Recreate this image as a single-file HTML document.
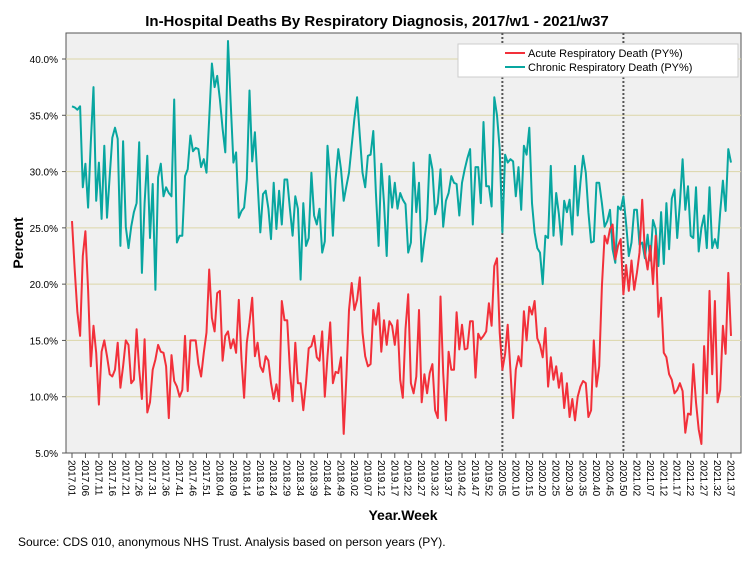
<!DOCTYPE html>
<html><head><meta charset="utf-8"><style>
body{margin:0;background:#fff;}
svg{display:block;font-family:"Liberation Sans",Arial,sans-serif;}
</style></head><body>
<svg id="chart" width="754" height="564" viewBox="0 0 754 564">
<rect x="0" y="0" width="754" height="564" fill="#fff"/>
<text x="377" y="26" text-anchor="middle" font-size="15" font-weight="bold">In-Hospital Deaths By Respiratory Diagnosis, 2017/w1 - 2021/w37</text>
<rect x="66" y="33" width="675" height="420" fill="#f0f0f0" stroke="#555" stroke-width="1"/>
<g id="grid"></g>
<g id="yaxis"></g>
<g id="xaxis"></g>
<g id="series"></g>
<text x="403" y="520" text-anchor="middle" font-size="14" font-weight="bold">Year.Week</text>
<text transform="translate(23,243) rotate(-90)" text-anchor="middle" font-size="14" font-weight="bold">Percent</text>
<text x="18" y="546" font-size="12">Source: CDS 010, anonymous NHS Trust. Analysis based on person years (PY).</text>
<g>
<rect x="458" y="44" width="280" height="33" fill="#fff" stroke="#ccc"/>
<line x1="505" y1="53" x2="525" y2="53" stroke="#f2303a" stroke-width="2"/>
<text x="528" y="57" font-size="11">Acute Respiratory Death (PY%)</text>
<line x1="505" y1="67" x2="525" y2="67" stroke="#08a6a0" stroke-width="2"/>
<text x="528" y="71" font-size="11">Chronic Respiratory Death (PY%)</text>
</g>
</svg>
<script>
const years=[2017,2018,2019,2020,2021];
const weeksPerYear=[52,52,52,53,37];
const yTicks=[5,10,15,20,25,30,35,40];
const yTickLabels=["5.0%","10.0%","15.0%","20.0%","25.0%","30.0%","35.0%","40.0%"];
const markerWeeks=["2020.05","2020.50"];
const acute=[25.6,21.3,17.5,15.4,22.5,24.7,19.5,12.7,16.3,13.9,9.3,14,15,13.6,12,11.8,12.4,14.8,10.8,12.7,15,14.6,11.2,11.5,16,12.4,9.8,15.1,8.6,9.5,12.4,13.3,14.6,14,13.9,12.7,8.1,13.7,11.4,10.9,10,
10.6,15.4,10.5,15,15,15,12.9,11.8,13.9,15.7,21.3,17,15.8,19.2,19.4,13.2,15.4,15.8,14.3,15.1,13.9,18.6,13.3,9.9,14.8,16.6,18.8,13.6,14.8,12.7,12.2,13.6,13.2,11.2,9.8,11.1,9.6,18.5,16.8,
16.8,12.4,9.6,14.8,11.2,11.2,8.8,11.2,14.3,14.5,15.4,13.5,13.2,15.8,10,13.6,16.6,11.2,12.2,12.1,13.5,6.7,11.8,17.7,20.1,17.7,18.6,20.6,15.7,13.6,12.7,12.9,17.7,16.4,18.3,14,16.8,14.6,16.7,16.3,14.6,
16.8,11.5,9.9,16,19.1,11.2,10.3,11.8,17.7,9.5,12,10.3,12.1,12.9,8.8,8.1,18.9,12.1,7.9,14,12.4,12.4,17.5,14.2,16.4,14.2,14.3,16.7,16.7,11.7,15.6,15.1,15.4,15.8,18.3,16.3,21.6,22.3,15.7,12.4,13.8,
16.4,12.4,8.1,12.4,13.6,12.7,17.6,15,18,17.3,18.5,15.2,14.6,13.5,16.1,10.9,13.5,11.5,12.7,10.8,12.1,9,11.2,8.2,9.8,7.9,10,10.9,11.4,11.2,8.2,8.8,15,10.9,12.7,19.8,24.3,23.6,24.9,25.3,22.2,
23.4,24,19.1,21.7,19.4,22.1,19.5,21,22.8,27.5,22.8,21.3,23.4,20,24.3,17.1,18.8,13.9,13.5,12,11.5,10.3,10.6,11.2,10.5,6.8,8.5,8.4,12.9,9.5,7.1,5.8,14.5,10.3,19.4,12,18.5,9.5,10.6,16.3,13.8,21,15.4];
const chronic=[35.8,35.7,35.5,35.8,28.6,30.7,26.8,32.6,37.5,27.4,30.8,25.8,32.3,25.9,29.6,33,33.9,32.9,23.4,32.7,25.1,23.2,25.1,26.4,27.2,32.6,21,27.2,31.4,24.1,28.9,19.5,29.5,30.7,27.8,28.6,28.1,27.8,36.4,23.7,24.3,
24.3,29.6,30.2,33.2,31.8,32.1,32,30.4,31.1,29.9,34.7,39.6,37.5,38.5,36.4,33.8,31.7,41.6,36.1,30.8,31.7,25.9,26.5,26.8,29.3,37.2,30.9,33.5,29,24.6,28,28.3,26.7,24,29,24.9,28.3,25.3,29.3,
29.3,26.7,24.3,27.8,26.7,20.4,27.2,23.4,24.1,29.9,26.1,25.3,26.7,22.8,23.8,32.3,29.3,24.3,29.3,32,30.2,27.4,28.7,29.9,32.3,34.7,36.6,33.2,29.9,28.6,31.4,31.5,33.6,28.1,23.4,30.7,27.2,22.5,29.6,26.8,29,
26.7,28.1,27.5,27.1,22.8,23.7,30.8,26.4,29,22,24,25.8,31.5,30.2,26.2,27.2,30.2,25.1,27.4,28.1,29.6,29,28.9,26.1,29,30.2,31.2,32,25.3,30.4,30.4,27.2,34.4,28.7,28.7,26.9,36.6,35,32,24.6,31.5,
30.8,31.1,30.9,27.8,30.4,26.6,32.3,31.5,33.9,27.2,24.6,23.2,22.8,20,24.3,24.1,30.5,24.3,28.1,26.2,23.5,27.4,26.4,27.5,24.4,30.5,26.1,29,31.4,29.9,26.4,23.7,23.8,29,29,27.2,25.1,25.6,26.6,23.1,21.9,
26.9,26.6,27.8,25.4,22.5,23.7,26.6,26.6,23.5,23.7,22.3,24.4,22.1,25.7,24.9,21.6,26.4,21.8,27.2,23.1,27.6,28.4,24.1,27.2,31.1,26.6,28.7,24.3,24.1,28.6,22.9,25,26.1,23.2,28.6,23.2,24,23.2,26.4,29.2,26.5,32,30.8];

const NS='http://www.w3.org/2000/svg';
const cats=[];
for(let k=0;k<years.length;k++){for(let w=1;w<=weeksPerYear[k];w++){cats.push(years[k]+'.'+String(w).padStart(2,'0'));}}
const x0=72,x1=731,yTop=453,yBot=59;
const xScale=i=>x0+(x1-x0)*i/(cats.length-1);
const yScale=v=>yTop+(v-5)*(yBot-yTop)/35;
function mk(tag,attrs,parent){const e=document.createElementNS(NS,tag);for(const k in attrs)e.setAttribute(k,attrs[k]);document.getElementById(parent).appendChild(e);return e;}
yTicks.forEach((t,i)=>{
  if(t>5){const g=mk('line',{x1:66,x2:741,y1:yScale(t),y2:yScale(t),stroke:'#dcd6a8','stroke-width':1},'grid');
  
  }
  const tl=mk('text',{x:58,y:yScale(t)+4,'text-anchor':'end','font-size':10},'yaxis');
  tl.textContent=yTickLabels[i];
  
  
  const tk=mk('line',{x1:62,x2:66,y1:yScale(t),y2:yScale(t),stroke:'#555'},'yaxis');
  
  
});
cats.forEach((c,i)=>{
  if(i%5!==0)return;
  const x=xScale(i);
  const tk=mk('line',{x1:x,x2:x,y1:453,y2:458,stroke:'#555'},'xaxis');
  
  
  const t=mk('text',{transform:`translate(${x-3.5},460) rotate(90)`,'font-size':10},'xaxis');
  t.textContent=c;
  
  
});
markerWeeks.forEach(m=>{
  const i=cats.indexOf(m);
  const l=mk('line',{x1:xScale(i),x2:xScale(i),y1:33,y2:453,stroke:'#555','stroke-width':2,'stroke-dasharray':'2,2'},'series');
  
  
});
function path(arr,color,name){
  const d=arr.map((v,i)=>(i?'L':'M')+xScale(i).toFixed(1)+','+yScale(v).toFixed(1)).join('');
  const p=mk('path',{d:d,fill:'none',stroke:color,'stroke-width':2,'stroke-linejoin':'round'},'series');
  
  
}
path(chronic,'#08a6a0','chronic-line');
path(acute,'#f2303a','acute-line');
</script>
</body></html>
